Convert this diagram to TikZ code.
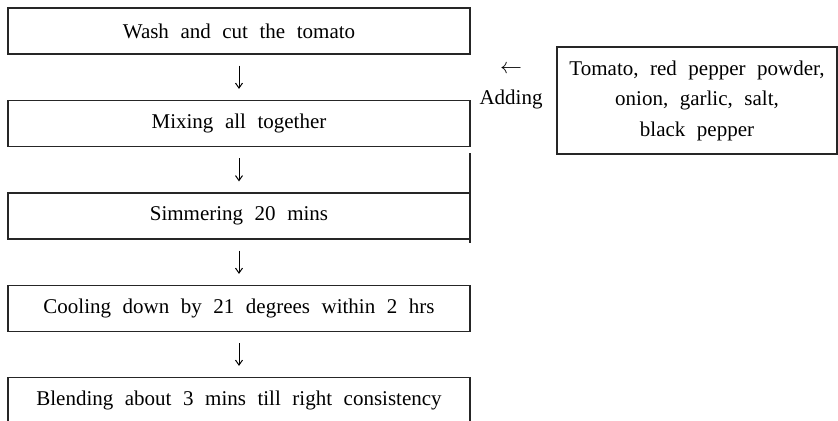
\documentclass[tikz,border=0pt]{standalone}
\usepackage{fontspec}
\setmainfont{Liberation Serif}[WordSpace=2.2]
\usetikzlibrary{arrows.meta}
\begin{document}
\begin{tikzpicture}[x=0.5pt,y=-0.5pt,
  every node/.style={font=\fontsize{10.5pt}{15.25pt}\selectfont, inner sep=0pt},
  stepbox/.style={draw=black!85, line width=0.6pt, minimum width=231pt, minimum height=23pt},
  inbox/.style={draw=black!85, line width=0.6pt, minimum width=140pt, minimum height=53.5pt, align=center},
  conn/.style={line width=0.5pt, -{Straight Barb[length=2.5pt,width=3.5pt]}, shorten <=5.5pt, shorten >=5.5pt}
]
\useasboundingbox (0,0) rectangle (838,420);
\clip (0,0) rectangle (838,420);
\node[stepbox] (b1) at (239,31) {Wash and cut the tomato};
\node[stepbox] (b2) at (239,123.5) {Mixing all together};
\node[stepbox] (b3) at (239,216) {Simmering 20 mins};
\node[stepbox] (b4) at (239,308.5) {Cooling down by 21 degrees within 2 hrs};
\node[stepbox] (b5) at (239,400.5) {Blending about 3 mins till right consistency};
\node[inbox] (ing) at (697,100.5) {Tomato, red pepper powder,\\onion, garlic, salt,\\black pepper};
\node[align=center] (add) at (511,87) {$\leftarrow$\\Adding};
\draw[conn] (b1) -- (b2);
\draw[conn] (b2) -- (b3);
\draw[conn] (b3) -- (b4);
\draw[conn] (b4) -- (b5);
\coordinate (s1) at (470,153);
\coordinate (s2) at (470,243);
\draw[draw=black!85, line width=0.6pt] (s1) -- (s2);
\end{tikzpicture}
\end{document}
